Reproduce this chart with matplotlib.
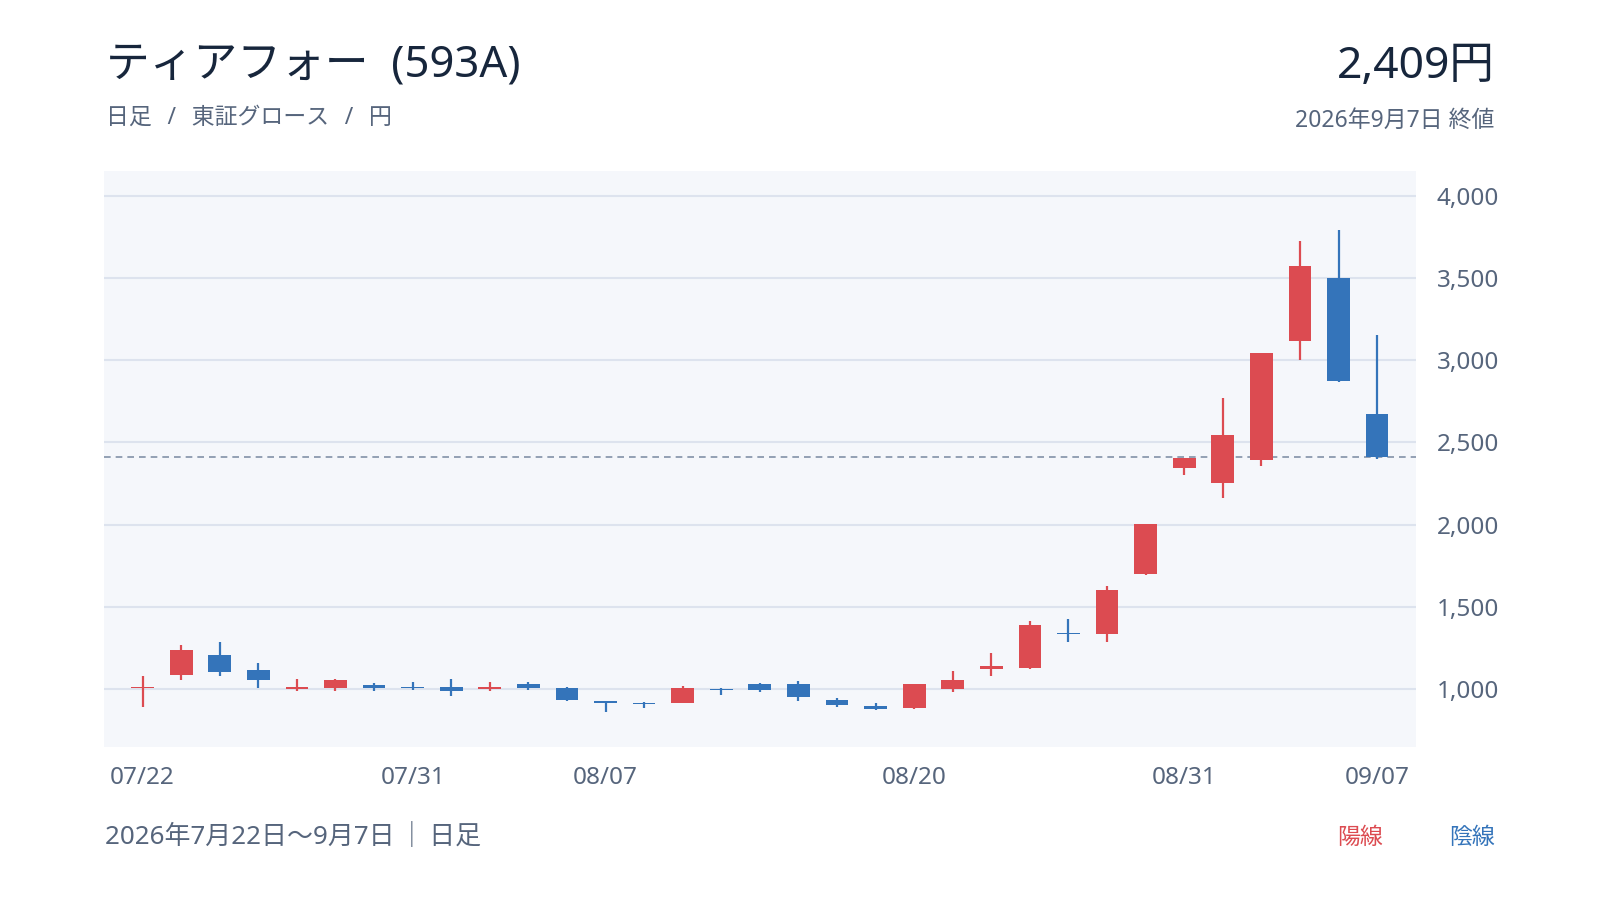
import matplotlib
matplotlib.use("Agg")
import matplotlib.pyplot as plt
from matplotlib.ticker import FuncFormatter

plt.rcParams['font.family'] = ['Noto Sans', 'Noto Sans CJK JP', 'DejaVu Sans']

# daily candles, 2026-07-22 .. 2026-09-07 (trading days)
dates = ["07/22", "07/23", "07/24", "07/27", "07/28", "07/29", "07/30", "07/31",
         "08/01", "08/04", "08/05", "08/06", "08/07", "08/10", "08/12", "08/13",
         "08/14", "08/17", "08/18", "08/19", "08/20", "08/21", "08/24", "08/25",
         "08/26", "08/27", "08/28", "08/31", "09/01", "09/02", "09/03", "09/04",
         "09/07"]
opens = [1010, 1087, 1209, 1118, 998, 1004, 1026, 1014, 1014, 1002, 1033,
         1008, 929, 917, 917, 1002, 1033, 1033, 935, 898, 886, 1002, 1120,
         1130, 1342, 1337, 1703, 2344, 2254, 2393, 3114, 3502, 2672]
highs = [1079, 1270, 1287, 1161, 1061, 1063, 1039, 1045, 1061, 1045, 1045,
         1014, 929, 923, 1020, 1008, 1039, 1051, 947, 917, 1033, 1112, 1220,
         1417, 1427, 1628, 2002, 2405, 2773, 3041, 3724, 3791, 3154]
lows = [890, 1053, 1083, 1010, 988, 988, 988, 992, 957, 988, 992,
        925, 864, 888, 913, 967, 980, 931, 892, 874, 880, 980, 1083,
        1120, 1285, 1285, 1691, 2303, 2161, 2359, 3001, 2868, 2399]
closes = [1012, 1240, 1102, 1057, 1014, 1057, 1008, 1010, 986, 1014, 1010,
          935, 913, 912, 1008, 997, 996, 953, 904, 880, 1033, 1057, 1142,
          1392, 1336, 1600, 2002, 2405, 2544, 3041, 3575, 2872, 2409]
tick_labels = ["07/22", "07/31", "08/07", "08/20", "08/31", "09/07"]
last_close = 2409

up_color = "#dc4b51"
down_color = "#3474ba"
navy = "#17263c"
gray = "#56657c"

fig = plt.figure(figsize=(16, 9), dpi=100)
ax = fig.add_axes([0.065, 0.1703, 0.8198, 0.6397])
ax.set_facecolor("#f5f7fb")
for s in ax.spines.values():
    s.set_visible(False)

x = list(range(len(dates)))
for i in x:
    o, h, l, c = opens[i], highs[i], lows[i], closes[i]
    col = up_color if c >= o else down_color
    ax.vlines(i, l, h, color=col, linewidth=1.6, zorder=3)
    bottom = min(o, c)
    height = max(abs(c - o), 6)
    ax.bar(i, height, bottom=bottom, width=0.59, color=col, zorder=4)

ax.axhline(last_close, color="#8292a8", linewidth=1.2, linestyle=(0, (4, 3)), zorder=2)

ax.set_xlim(-1, len(dates))
ax.set_ylim(650, 4150)
ax.set_yticks([1000, 1500, 2000, 2500, 3000, 3500, 4000])
ax.yaxis.set_major_formatter(FuncFormatter(lambda v, p: f"{int(v):,}"))
ax.yaxis.tick_right()
ax.grid(axis="y", color="#dde3ee", linewidth=1.5, zorder=1)
ax.set_xticks([dates.index(t) for t in tick_labels])
ax.set_xticklabels(tick_labels)
ax.tick_params(axis="y", length=0, pad=15, labelsize=17.5, labelcolor=gray)
ax.tick_params(axis="x", length=0, pad=14, labelsize=17.5, labelcolor=gray)
for lab in ax.get_yticklabels():
    lab.set_horizontalalignment("left")

# header
fig.text(0.066, 0.9148, "ティアフォー  (593A)", fontsize=31.5, color=navy, va="baseline")
fig.text(0.066, 0.862, "日足 \u2009 / \u2009 東証グロース \u2009 / \u2009 円", fontsize=16.5,
         color=gray, va="baseline")
fig.text(0.934, 0.913, "2,409円", fontsize=32, color=navy, va="baseline", ha="right")
fig.text(0.934, 0.859, "2026年9月7日 終値", fontsize=16.5, color=gray, va="baseline", ha="right")

# footer
fig.text(0.0655, 0.0619, "2026年7月22日〜9月7日\u2009｜\u2009日足", fontsize=18.7, color=gray, va="baseline")
fig.text(0.864, 0.0619, "陽線", fontsize=16.5, color=up_color, va="baseline", ha="right")
fig.text(0.934, 0.0619, "陰線", fontsize=16.5, color=down_color, va="baseline", ha="right")

fig.savefig("out.png", dpi=100, facecolor="white")
